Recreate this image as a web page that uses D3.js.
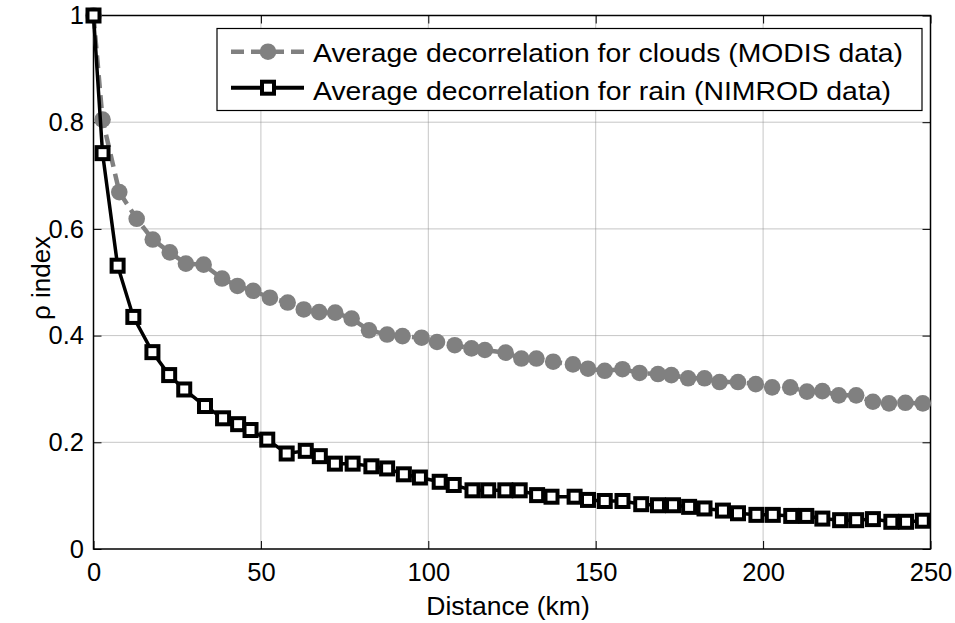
<!DOCTYPE html>
<html>
<head>
<meta charset="utf-8">
<script src="https://cdn.jsdelivr.net/npm/d3@7"></script>
<style>
  html, body { margin: 0; padding: 0; background: #fff; }
  text { font-family: Arial, "Liberation Sans", sans-serif; }
</style>
</head>
<body>
<svg id="chart" width="955" height="623"></svg>
<script>
// ---- data ----
const cloudDist = [0, 2.7, 7.7, 12.9, 17.7, 22.8, 27.6, 32.9, 38.4, 43.0, 47.7, 52.7, 58.0, 62.8, 67.4, 72.2, 77.1, 82.3, 87.7, 92.3, 98.0, 102.6, 107.9, 112.9, 116.9, 123.1, 127.8, 132.3, 137.3, 143.2, 147.7, 152.7, 158.0, 163.1, 168.6, 172.6, 177.6, 182.5, 187.0, 192.5, 197.8, 202.7, 208.1, 213.1, 217.7, 222.6, 227.8, 232.8, 237.6, 242.5, 247.7];
const cloudRho = [1.0, 0.805, 0.669, 0.619, 0.580, 0.556, 0.535, 0.533, 0.507, 0.493, 0.484, 0.471, 0.462, 0.449, 0.444, 0.443, 0.432, 0.410, 0.402, 0.399, 0.396, 0.388, 0.382, 0.376, 0.373, 0.368, 0.357, 0.357, 0.351, 0.346, 0.338, 0.334, 0.337, 0.330, 0.328, 0.326, 0.320, 0.320, 0.313, 0.313, 0.309, 0.303, 0.303, 0.295, 0.296, 0.288, 0.288, 0.276, 0.273, 0.274, 0.273];
const rainDist = [0, 2.7, 7.2, 11.9, 17.6, 22.6, 27.1, 33.3, 38.7, 43.2, 46.9, 51.9, 57.7, 63.4, 67.6, 72.1, 77.4, 83.0, 87.7, 92.7, 97.5, 103.4, 107.6, 113.2, 117.9, 123.0, 127.3, 132.5, 136.8, 143.7, 147.7, 152.7, 158.0, 163.6, 168.6, 173.1, 177.9, 182.5, 188.0, 192.5, 198.0, 202.9, 208.4, 212.9, 217.7, 223.0, 227.8, 232.8, 238.3, 242.7, 247.7];
const rainRho = [1.0, 0.742, 0.531, 0.435, 0.369, 0.326, 0.299, 0.268, 0.245, 0.234, 0.223, 0.205, 0.179, 0.184, 0.174, 0.160, 0.160, 0.155, 0.151, 0.140, 0.134, 0.126, 0.120, 0.110, 0.110, 0.110, 0.110, 0.101, 0.098, 0.098, 0.092, 0.090, 0.090, 0.084, 0.082, 0.082, 0.079, 0.076, 0.072, 0.067, 0.064, 0.064, 0.062, 0.062, 0.057, 0.054, 0.054, 0.056, 0.051, 0.051, 0.053];
const xTicks = [0, 50, 100, 150, 200, 250];
const yTicks = [0, 0.2, 0.4, 0.6, 0.8, 1];
const yTickLabels = ["0", "0.2", "0.4", "0.6", "0.8", "1"];
const seriesNames = ["Average decorrelation for clouds (MODIS data)", "Average decorrelation for rain (NIMROD data)"];
const xLabel = "Distance (km)";
const yLabel = "ρ index";

// ---- layout ----
const L = 93.5, R = 930.5, T = 15.5, B = 549;
const svg = d3.select("#chart");
const x = d3.scaleLinear().domain([0, 250]).range([L, R]);
const y = d3.scaleLinear().domain([0, 1]).range([B, T]);

const grey = "#808080";

// grid
const grid = svg.append("g");
xTicks.filter(t => t > 0 && t < 250).forEach(t => {
  grid.append("line").attr("x1", x(t)).attr("x2", x(t)).attr("y1", T).attr("y2", B)
    .attr("stroke", "#8c8c8c").attr("stroke-width", 1).attr("stroke-dasharray", "1,1");
});
yTicks.filter(t => t > 0 && t < 1).forEach(t => {
  grid.append("line").attr("x1", L).attr("x2", R).attr("y1", y(t)).attr("y2", y(t))
    .attr("stroke", "#8c8c8c").attr("stroke-width", 1).attr("stroke-dasharray", "1,1");
});

// axes via d3 axis (inner ticks)
const fs = 25.5;
const xAxis = svg.append("g").attr("transform", `translate(0,${B})`)
  .call(d3.axisBottom(x).tickValues(xTicks).tickSizeInner(-8).tickSizeOuter(0).tickPadding(14));
const xAxisTop = svg.append("g").attr("transform", `translate(0,${T})`)
  .call(d3.axisTop(x).tickValues(xTicks).tickSizeInner(-8).tickSizeOuter(0).tickFormat(""));
const yAxis = svg.append("g").attr("transform", `translate(${L},0)`)
  .call(d3.axisLeft(y).tickValues(yTicks).tickSizeInner(-8).tickSizeOuter(0).tickPadding(9.5)
    .tickFormat((d, i) => yTickLabels[i]));
const yAxisR = svg.append("g").attr("transform", `translate(${R},0)`)
  .call(d3.axisRight(y).tickValues(yTicks).tickSizeInner(-8).tickSizeOuter(0).tickFormat(""));
[xAxis, xAxisTop, yAxis, yAxisR].forEach(g => {
  g.select(".domain").remove();
  g.selectAll(".tick line").attr("stroke", "#000").attr("stroke-width", 1);
  g.selectAll("text").attr("font-size", fs).attr("fill", "#000")
    .style("font-family", "Arial, 'Liberation Sans', sans-serif");
});

// box
svg.append("rect").attr("x", L).attr("y", T).attr("width", R - L).attr("height", B - T)
  .attr("fill", "none").attr("stroke", "#000").attr("stroke-width", 1.5);

// series
const cloudData = cloudDist.map((d, i) => [d, cloudRho[i]]);
const rainData = rainDist.map((d, i) => [d, rainRho[i]]);
const line = d3.line().x(d => x(d[0])).y(d => y(d[1]));

svg.append("path").datum(cloudData).attr("d", line).attr("fill", "none")
  .attr("stroke", grey).attr("stroke-width", 4.5).attr("stroke-dasharray", "13,7");
svg.append("g").selectAll("circle").data(cloudData).join("circle")
  .attr("cx", d => x(d[0])).attr("cy", d => y(d[1])).attr("r", 8.3).attr("fill", grey);

svg.append("path").datum(rainData).attr("d", line).attr("fill", "none")
  .attr("stroke", "#000").attr("stroke-width", 3.5);
const sq = 12;
svg.append("g").selectAll("rect").data(rainData).join("rect")
  .attr("x", d => x(d[0]) - sq / 2).attr("y", d => y(d[1]) - sq / 2)
  .attr("width", sq).attr("height", sq)
  .attr("fill", "#fff").attr("stroke", "#000").attr("stroke-width", 4);

// legend
const lg = svg.append("g");
lg.append("rect").attr("x", 217).attr("y", 28.5).attr("width", 705).attr("height", 82)
  .attr("fill", "#fff").attr("stroke", "#000").attr("stroke-width", 1.2);
const mRows = [51.7, 87.7];
const tRows = [52.5, 90.5];
lg.append("line").attr("x1", 231).attr("x2", 304).attr("y1", mRows[0]).attr("y2", mRows[0])
  .attr("stroke", grey).attr("stroke-width", 4.5).attr("stroke-dasharray", "13,7");
lg.append("circle").attr("cx", 268).attr("cy", mRows[0]).attr("r", 8.3).attr("fill", grey);
lg.append("line").attr("x1", 231).attr("x2", 304).attr("y1", mRows[1]).attr("y2", mRows[1])
  .attr("stroke", "#000").attr("stroke-width", 4);
lg.append("rect").attr("x", 268 - sq / 2).attr("y", mRows[1] - sq / 2).attr("width", sq).attr("height", sq)
  .attr("fill", "#fff").attr("stroke", "#000").attr("stroke-width", 4);
const legendWidths = [590, 578];
seriesNames.forEach((s, i) => {
  lg.append("text").attr("x", 313).attr("y", tRows[i]).attr("dy", "0.358em")
    .attr("font-size", 26.5).attr("fill", "#000")
    .attr("textLength", legendWidths[i]).attr("lengthAdjust", "spacingAndGlyphs").text(s);
});

// axis labels
svg.append("text").attr("x", 508).attr("y", 606).attr("text-anchor", "middle")
  .attr("dy", "0.358em").attr("font-size", 26.5).text(xLabel);
svg.append("text").attr("transform", `translate(41,278) rotate(-90)`)
  .attr("text-anchor", "middle").attr("dy", "0.35em").attr("font-size", 26).text(yLabel);
</script>
</body>
</html>
